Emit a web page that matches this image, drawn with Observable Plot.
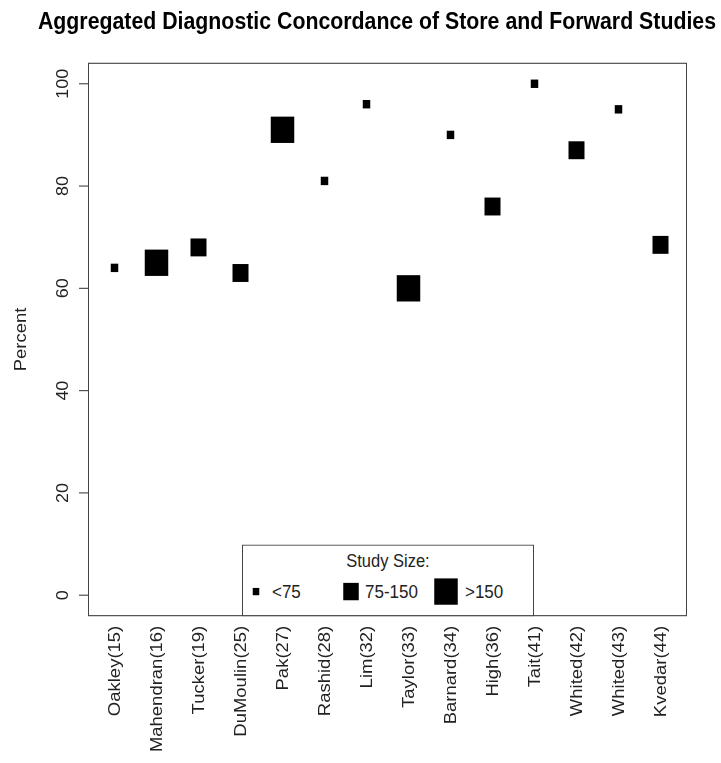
<!DOCTYPE html>
<html>
<head>
<meta charset="utf-8">
<script src="https://cdn.jsdelivr.net/npm/d3@7"></script>
<script src="https://cdn.jsdelivr.net/npm/@observablehq/plot@0.6"></script>
<style>
  html, body { margin: 0; padding: 0; background: #fff; }
  #page { position: relative; width: 721px; height: 763px; overflow: hidden; }
  #wrap {
    position: absolute; left: 0; top: 0; width: 721px; height: 681px;
    transform: scaleY(1.1204); transform-origin: 0 0;
    font-family: "Liberation Sans", Arial, Helvetica, sans-serif;
  }
  #title {
    position: absolute; top: 9px; left: 16.5px; width: 721px;
    text-align: center; font-weight: bold; font-size: 21.3px; line-height: 21px;
    color: #000; white-space: nowrap;
  }
  #chart { position: absolute; left: 0; top: 0; }
  #legend { position: absolute; left: 242px; top: 486.4px; }
</style>
</head>
<body>
<div id="page">
<div id="wrap">
  <div id="chart"></div>
  <div id="title">Aggregated Diagnostic Concordance of Store and Forward Studies</div>
  <div id="legend"></div>
</div>
</div>
<script>
// ---- data ----
const studies = ["Oakley(15)", "Mahendran(16)", "Tucker(19)", "DuMoulin(25)", "Pak(27)", "Rashid(28)",
  "Lim(32)", "Taylor(33)", "Barnard(34)", "High(36)", "Tait(41)", "Whited(42)", "Whited(43)", "Kvedar(44)"];
const percent = [64, 65, 68, 63, 91, 81, 96, 60, 90, 76, 100, 87, 95, 68.5];
const studySize = ["<75", ">150", "75-150", "75-150", ">150", "<75", "<75", ">150", "<75", "75-150", "<75", "75-150", "<75", "75-150"];
const sizeClasses = ["<75", "75-150", ">150"];
const legendTitle = "Study Size:";
const yTicks = [0, 20, 40, 60, 80, 100];

// ---- styling ----
const sideOf = {"<75": 7.5, "75-150": 16, ">150": 23.5};
const legendSideOf = {"<75": 6.5, "75-150": 15.5, ">150": 23.5};
const legendSymbolX = [14, 109, 204];
const legendTextX = [30, 123, 223];
const lineColor = "#444";
const textColor = "#222";
const font = '"Liberation Sans", Arial, Helvetica, sans-serif';

const data = studies.map((s, i) => ({study: s, percent: percent[i], size: studySize[i]}));

const chart = Plot.plot({
  width: 721, height: 681,
  marginTop: 56, marginBottom: 132, marginLeft: 88, marginRight: 35,
  style: {fontFamily: font, fontSize: "16.5px", color: textColor, background: "transparent", overflow: "visible"},
  x: {type: "point", domain: studies, padding: 0.52, axis: null},
  y: {domain: [-4, 104], axis: null},
  marks: [
    Plot.frame({stroke: lineColor}),
    // x tick labels (no tick marks)
    Plot.text(studies, {x: d => d, text: d => d, frameAnchor: "bottom", rotate: -90,
      textAnchor: "end", lineAnchor: "middle", dy: 9, fill: textColor}),
    // y ticks + labels
    Plot.axisY(yTicks, {tickSize: 9, tickFormat: () => "", label: null, stroke: lineColor}),
    Plot.text(yTicks, {y: d => d, text: d => String(d), frameAnchor: "left", rotate: -90,
      textAnchor: "middle", lineAnchor: "bottom", dx: -21, fill: textColor, fontSize: 16}),
    Plot.text(["Percent"], {text: d => d, frameAnchor: "left", rotate: -90,
      textAnchor: "middle", lineAnchor: "bottom", dx: -63, fill: textColor}),
    ...sizeClasses.map(c => Plot.dot(data.filter(d => d.size === c), {
      x: "study", y: "percent", symbol: "square", r: sideOf[c] / Math.sqrt(Math.PI),
      fill: "#000", stroke: null
    }))
  ]
});
document.getElementById("chart").appendChild(chart);

// ---- legend (inside the plot box, bottom centre) ----
const lw = 292, lh = 63;
const lsvg = d3.select("#legend").append("svg")
  .attr("width", lw).attr("height", lh)
  .style("font-family", font).style("overflow", "visible");
lsvg.append("rect").attr("x", 0.5).attr("y", 0.5).attr("width", lw - 1).attr("height", lh)
  .attr("fill", "#fff").attr("stroke", lineColor);
lsvg.append("text").attr("x", 146).attr("y", 14.5).attr("dy", "0.35em")
  .attr("text-anchor", "middle").attr("font-size", 16.5).attr("fill", textColor).text(legendTitle);
const item = lsvg.selectAll("g.item").data(sizeClasses).join("g")
  .attr("transform", "translate(0,42)");
item.append("rect")
  .attr("x", (d, i) => legendSymbolX[i] - legendSideOf[d] / 2).attr("y", d => -legendSideOf[d] / 2)
  .attr("width", d => legendSideOf[d]).attr("height", d => legendSideOf[d])
  .attr("fill", "#000");
item.append("text").attr("x", (d, i) => legendTextX[i]).attr("dy", "0.35em")
  .attr("font-size", 17).attr("fill", textColor).text(d => d);
</script>
</body>
</html>
